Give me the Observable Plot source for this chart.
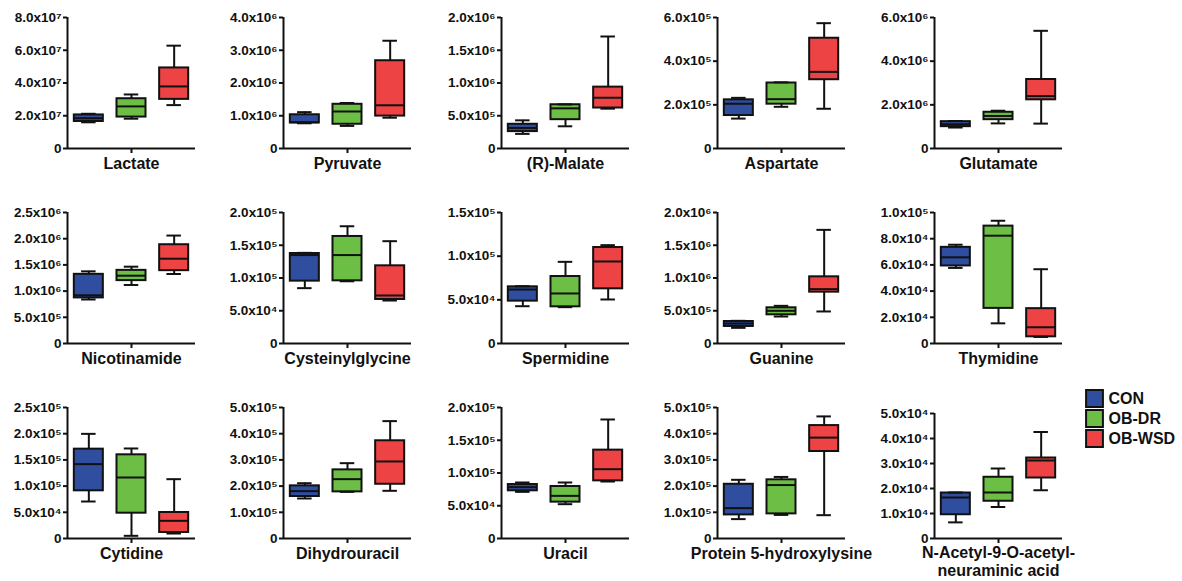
<!DOCTYPE html>
<html><head><meta charset="utf-8">
<script src="https://cdn.jsdelivr.net/npm/d3@7"></script>
<script src="https://cdn.jsdelivr.net/npm/@observablehq/plot@0.6"></script>
<style>
body{margin:0;background:#fff;}
#chart{position:relative;width:1182px;height:581px;overflow:hidden;background:#fff;}
#chart svg{position:absolute;overflow:visible;}
</style></head><body><div id="chart"></div>
<script>
const groups = ["CON", "OB-DR", "OB-WSD"];
const colors = ["#2F4EA0", "#6DBE45", "#EE4344"];
const metabolites = ["Lactate", "Pyruvate", "(R)-Malate", "Aspartate", "Glutamate",
  "Nicotinamide", "Cysteinylglycine", "Spermidine", "Guanine", "Thymidine",
  "Cytidine", "Dihydrouracil", "Uracil", "Protein 5-hydroxylysine", "N-Acetyl-9-O-acetyl-\nneuraminic acid"];
const yMax  = [8e7, 4e6, 2e6, 6e5, 6e6, 2.5e6, 2e5, 1.5e5, 2e6, 1e5, 2.5e5, 5e5, 2e5, 5e5, 5e4];
const yStep = [2e7, 1e6, 5e5, 2e5, 2e6, 5e5, 5e4, 5e4, 5e5, 2e4, 5e4, 1e5, 5e4, 1e5, 1e4];

// five-number summaries per group: [min, q1, median, q3, max]
const lactate = [[1.60e7,1.65e7,1.85e7,2.05e7,2.12e7],[1.82e7,1.92e7,2.57e7,3.04e7,3.30e7],[2.65e7,3.00e7,3.79e7,4.92e7,6.28e7]];
const pyruvate = [[0.77e6,0.78e6,0.80e6,1.03e6,1.11e6],[0.69e6,0.74e6,1.13e6,1.35e6,1.39e6],[0.94e6,0.99e6,1.32e6,2.68e6,3.29e6]];
const malate = [[2.23e5,2.58e5,3.14e5,3.70e5,4.30e5],[3.39e5,4.40e5,6.13e5,6.68e5,6.73e5],[6.08e5,6.18e5,7.75e5,9.37e5,1.71e6]];
const aspartate = [[1.37e5,1.51e5,2.05e5,2.23e5,2.32e5],[1.91e5,2.03e5,2.26e5,3.00e5,3.03e5],[1.82e5,3.15e5,3.51e5,5.05e5,5.74e5]];
const glutamate = [[0.96e6,1.00e6,1.11e6,1.23e6,1.26e6],[1.15e6,1.32e6,1.49e6,1.66e6,1.73e6],[1.14e6,2.23e6,2.40e6,3.16e6,5.39e6]];
const nicotinamide = [[0.84e6,0.87e6,0.92e6,1.32e6,1.377e6],[1.117e6,1.20e6,1.294e6,1.396e6,1.466e6],[1.326e6,1.39e6,1.618e6,1.885e6,2.06e6]];
const cysteinylglycine = [[0.845e5,0.952e5,1.35e5,1.374e5,1.384e5],[0.95e5,0.957e5,1.35e5,1.634e5,1.79e5],[0.656e5,0.672e5,0.733e5,1.186e5,1.562e5]];
const spermidine = [[4.27e4,4.85e4,6.18e4,6.49e4,6.56e4],[4.16e4,4.2e4,5.73e4,7.67e4,9.35e4],[5.04e4,6.26e4,9.39e4,10.99e4,11.26e4]];
const guanine = [[2.39e5,2.60e5,3.05e5,3.36e5,3.46e5],[4.12e5,4.38e5,4.99e5,5.45e5,5.75e5],[4.89e5,7.84e5,8.30e5,10.18e5,17.35e5]];
const thymidine = [[5.77e4,5.92e4,6.58e4,7.34e4,7.54e4],[1.54e4,2.68e4,8.23e4,8.96e4,9.37e4],[0.50e4,0.51e4,1.24e4,2.66e4,5.67e4]];
const cytidine = [[0.706e5,0.91e5,1.419e5,1.705e5,1.997e5],[0.051e5,0.483e5,1.164e5,1.597e5,1.718e5],[0.095e5,0.115e5,0.337e5,0.496e5,1.132e5]];
const dihydrouracil = [[1.527e5,1.603e5,1.807e5,2.01e5,2.11e5],[1.78e5,1.78e5,2.265e5,2.62e5,2.875e5],[1.82e5,2.07e5,2.94e5,3.73e5,4.48e5]];
const uracil = [[7.12e4,7.28e4,7.84e4,8.24e4,8.55e4],[5.24e4,5.55e4,6.51e4,7.94e4,8.55e4],[8.7e4,8.8e4,10.58e4,13.49e4,18.17e4]];
const hydroxylysine = [[0.74e5,0.90e5,1.16e5,2.07e5,2.24e5],[0.90e5,0.94e5,2.04e5,2.24e5,2.35e5],[0.89e5,3.32e5,3.85e5,4.31e5,4.66e5]];
const acetylneuraminic = [[0.645e4,0.95e4,1.64e4,1.82e4,1.84e4],[1.26e4,1.49e4,1.84e4,2.45e4,2.80e4],[1.93e4,2.42e4,3.12e4,3.22e4,4.26e4]];
const summaries = [lactate, pyruvate, malate, aspartate, glutamate, nicotinamide, cysteinylglycine,
  spermidine, guanine, thymidine, cytidine, dihydrouracil, uracil, hydroxylysine, acetylneuraminic];

// layout
const colX = [67, 283, 501, 717, 934];
const rowTop = [17, 212, 407];
const W = 128, H = 131, ML = 70, MR = 6, MT = 10, MB = 50;
const BW = 0.34, CW = 0.17;
const FONT = "'Liberation Sans', Arial, Helvetica, sans-serif";

const supMap = {"-":"⁻","0":"⁰","1":"¹","2":"²","3":"³","4":"⁴","5":"⁵","6":"⁶","7":"⁷","8":"⁸","9":"⁹"};
function fmt(v) {
  if (v === 0) return "0";
  const e = Math.floor(Math.log10(v) + 1e-9);
  const m = v / Math.pow(10, e);
  return m.toFixed(1) + "x10" + String(e).split("").map(c => supMap[c]).join("");
}

const chart = document.getElementById("chart");
summaries.forEach((s, k) => {
  const rows = groups.map((g, i) => ({g, c: i + 0.5, min: s[i][0], q1: s[i][1], med: s[i][2], q3: s[i][3], max: s[i][4]}));
  const ticks = d3.range(0, yMax[k] + yStep[k] / 2, yStep[k]);
  const lastPanel = k === summaries.length - 1;
  const top = rowTop[Math.floor(k / 5)] + (lastPanel ? 6 : 0);
  const h = H - (lastPanel ? 6 : 0);
  const svg = Plot.plot({
    width: ML + W + MR, height: MT + h + MB,
    marginLeft: ML, marginRight: MR, marginTop: MT, marginBottom: MB,
    x: {domain: [0, 3]},
    y: {domain: [0, yMax[k]]},
    color: {domain: groups, range: colors},
    style: {fontFamily: FONT, fontWeight: "bold", fontSize: "13.5px", background: "transparent", color: "#111", overflow: "visible"},
    marks: [
      Plot.ruleX(rows, {x: "c", y1: "min", y2: "max", stroke: "#111", strokeWidth: 2}),
      Plot.rect(rows, {x1: d => d.c - BW, x2: d => d.c + BW, y1: "q1", y2: "q3", fill: "g", stroke: "#111", strokeWidth: 2}),
      Plot.ruleY(rows, {x1: d => d.c - BW, x2: d => d.c + BW, y: "med", stroke: "#111", strokeWidth: 2}),
      Plot.ruleY(rows, {x1: d => d.c - CW, x2: d => d.c + CW, y: "max", stroke: "#111", strokeWidth: 2}),
      Plot.ruleY(rows, {x1: d => d.c - CW, x2: d => d.c + CW, y: "min", stroke: "#111", strokeWidth: 2}),
      Plot.ruleX([0], {stroke: "#111", strokeWidth: 2}),
      Plot.ruleY([0], {stroke: "#111", strokeWidth: 2}),
      Plot.axisY({ticks, tickFormat: fmt, tickSize: 4, tickPadding: 2, strokeWidth: 2, label: null}),
      Plot.axisX({ticks: [1.5], tickFormat: () => "", tickSize: 5, strokeWidth: 2, label: null}),
      Plot.text([metabolites[k]], {frameAnchor: "bottom", dy: lastPanel ? 7 : 8, lineAnchor: "top", lineHeight: 1.1, fontSize: 16, fontWeight: "bold", fill: "#111"})
    ]
  });
  svg.style.left = (colX[k % 5] - ML) + "px";
  svg.style.top = (top - MT) + "px";
  chart.appendChild(svg);
});

// legend
const legend = Plot.plot({
  width: 102, height: 65, marginLeft: 14, marginRight: 10, marginTop: 12, marginBottom: 12,
  x: {domain: [0, 1], axis: null},
  y: {type: "point", domain: groups, padding: 0, axis: null},
  color: {domain: groups, range: colors},
  style: {fontFamily: FONT, fontWeight: "bold", background: "transparent", overflow: "visible"},
  marks: [
    Plot.dot(groups, {x: () => 0, y: d => d, symbol: "square", r: 9.5, fill: d => d, stroke: "#111", strokeWidth: 2}),
    Plot.text(groups, {x: () => 0, y: d => d, text: d => d, dx: 14, textAnchor: "start", fontSize: 16, fontWeight: "bold", fill: "#111"})
  ]
});
legend.style.left = "1080px";
legend.style.top = "385px";
chart.appendChild(legend);
</script></body></html>
